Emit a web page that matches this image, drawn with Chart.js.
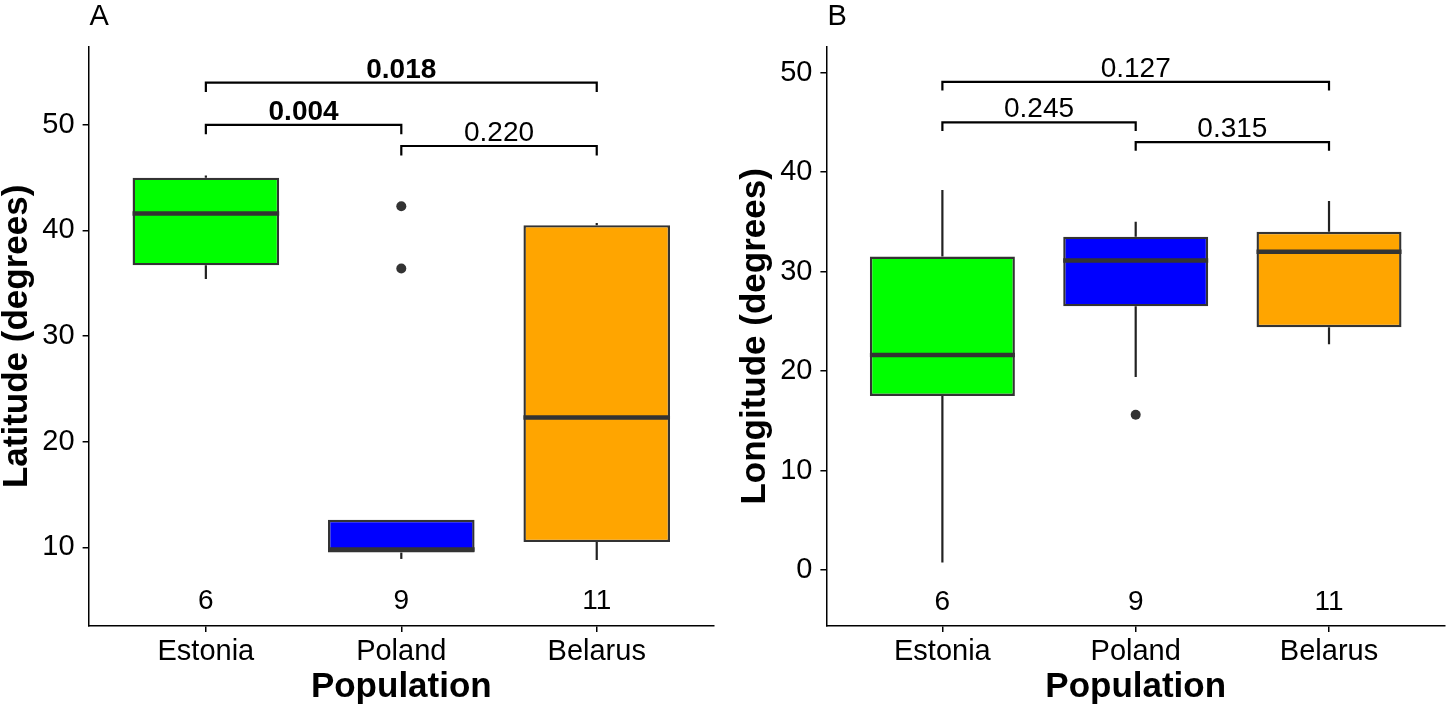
<!DOCTYPE html>
<html><head><meta charset="utf-8">
<script src="https://cdn.jsdelivr.net/npm/chart.js@4.4.0/dist/chart.umd.min.js"></script>
<style>
html,body{margin:0;padding:0;background:#fff;}
#wrap{position:relative;width:1450px;height:710px;overflow:hidden;}
.panel{position:absolute;top:0;width:725px;height:710px;}
canvas{display:block;}
</style></head><body>
<div id="wrap">
<div class="panel" style="left:0"><canvas id="cA" width="725" height="710"></canvas></div>
<div class="panel" style="left:725px"><canvas id="cB" width="725" height="710"></canvas></div>
</div>
<script>
const categories = ['Estonia', 'Poland', 'Belarus'];
const sampleSizes = [6, 9, 11];
const boxColors = ['#00FF00', '#0000FF', '#FFA500'];
const bracketPairs = [[1, 2], [2, 3], [1, 3]];

// Panel A - Latitude
const latWhiskerLow = [35.4, 8.9, 8.8];
const latQ1 = [36.7, 9.5, 10.5];
const latMedian = [41.6, 9.8, 22.3];
const latQ3 = [45.0, 12.6, 40.5];
const latWhiskerHigh = [45.2, 12.6, 40.7];
const latOutliers = [[], [42.3, 36.4], []];
const latTicks = [10, 20, 30, 40, 50];
const latRange = [2.55, 57.4];
const latPValues = ['0.004', '0.220', '0.018'];
const latPBold = [true, false, true];
const latBracketY = [50.0, 48.0, 54.0];
const latCountY = 4.85;

// Panel B - Longitude
const lonWhiskerLow = [0.75, 19.4, 22.7];
const lonQ1 = [17.5, 26.5, 24.4];
const lonMedian = [21.6, 31.1, 32.0];
const lonQ3 = [31.5, 33.5, 34.0];
const lonWhiskerHigh = [38.2, 35.0, 37.1];
const lonOutliers = [[], [15.6], []];
const lonTicks = [0, 10, 20, 30, 40, 50];
const lonRange = [-5.63, 52.6];
const lonPValues = ['0.245', '0.315', '0.127'];
const lonPBold = [false, false, false];
const lonBracketY = [45.0, 43.0, 49.07];
const lonCountY = -3.2;

const FONT = "'Liberation Sans', Arial, sans-serif";

function makePlugin(d) {
  return {
    id: 'boxExtras' + d.letter,
    beforeDatasetsDraw(chart) {
      const {ctx, scales: {x, y}} = chart;
      ctx.save();
      ctx.strokeStyle = '#222222';
      ctx.lineWidth = 2.2;
      d.low.forEach((lo, i) => {
        const px = x.getPixelForValue(i + 1);
        ctx.beginPath();
        ctx.moveTo(px, y.getPixelForValue(lo));
        ctx.lineTo(px, y.getPixelForValue(d.q1[i]));
        ctx.moveTo(px, y.getPixelForValue(d.q3[i]));
        ctx.lineTo(px, y.getPixelForValue(d.high[i]));
        ctx.stroke();
      });
      ctx.restore();
    },
    afterDatasetsDraw(chart) {
      const {ctx, scales: {x, y}, chartArea} = chart;
      const meta = chart.getDatasetMeta(0);
      ctx.save();
      // medians
      ctx.strokeStyle = '#333333';
      ctx.lineWidth = 4.5;
      d.median.forEach((m, i) => {
        const el = meta.data[i];
        const py = y.getPixelForValue(m);
        ctx.beginPath();
        ctx.moveTo(el.x - el.width / 2, py);
        ctx.lineTo(el.x + el.width / 2, py);
        ctx.stroke();
      });
      // brackets
      ctx.strokeStyle = '#000';
      ctx.lineWidth = 2.2;
      ctx.fillStyle = '#000';
      ctx.textAlign = 'center';
      ctx.textBaseline = 'alphabetic';
      bracketPairs.forEach((p, k) => {
        const x1 = x.getPixelForValue(p[0]);
        const x2 = x.getPixelForValue(p[1]);
        const yb = y.getPixelForValue(d.bracketY[k]);
        const yt = y.getPixelForValue(d.bracketY[k] - d.tip);
        ctx.beginPath();
        ctx.moveTo(x1, yt); ctx.lineTo(x1, yb); ctx.lineTo(x2, yb); ctx.lineTo(x2, yt);
        ctx.stroke();
        ctx.font = (d.bold[k] ? 'bold ' : '') + '28px ' + FONT;
        ctx.fillText(d.pvals[k], (x1 + x2) / 2, yb - 5);
      });
      // sample sizes
      ctx.font = '28px ' + FONT;
      ctx.textBaseline = 'middle';
      sampleSizes.forEach((n, i) => {
        ctx.fillText(String(n), x.getPixelForValue(i + 1), y.getPixelForValue(d.countY));
      });
      // panel letter
      ctx.textAlign = 'left';
      ctx.textBaseline = 'alphabetic';
      ctx.font = '29px ' + FONT;
      ctx.fillText(d.letter, chartArea.left + 1, 25);
      ctx.restore();
    }
  };
}

function makeChart(id, d) {
  const outPts = [];
  d.outliers.forEach((arr, i) => arr.forEach(v => outPts.push({x: i + 1, y: v})));
  return new Chart(document.getElementById(id), {
    type: 'bar',
    data: {
      datasets: [
        {
          type: 'bar',
          data: categories.map((c, i) => ({x: i + 1, y: [d.q1[i], d.q3[i]]})),
          backgroundColor: boxColors,
          borderColor: '#333333',
          borderWidth: 2.4,
          borderSkipped: false,
          barPercentage: 0.75,
          categoryPercentage: 1.0
        },
        {
          type: 'scatter',
          data: outPts,
          pointRadius: 5,
          pointBackgroundColor: '#333333',
          pointBorderWidth: 0
        }
      ]
    },
    options: {
      responsive: false,
      animation: false,
      layout: {padding: {top: 46.7, right: d.padRight, bottom: 0, left: 0}},
      plugins: {legend: {display: false}, tooltip: {enabled: false}, title: {display: false}},
      scales: {
        x: {
          type: 'linear',
          min: 0.4, max: 3.6,
          offset: false,
          afterBuildTicks: s => { s.ticks = categories.map((c, i) => ({value: i + 1})); },
          afterFit: s => { s.height = 84; },
          ticks: {
            autoSkip: false, maxRotation: 0, padding: 3,
            color: '#000', font: {family: FONT, size: 29},
            callback: v => categories[Math.round(v) - 1]
          },
          grid: {display: true, drawOnChartArea: false, drawTicks: true, tickLength: 6, color: '#000', lineWidth: 1.5, offset: false},
          border: {display: true, color: '#000', width: 1.5},
          title: {display: true, text: 'Population', color: '#000', font: {family: FONT, size: 35, weight: 'bold'}, padding: {top: 0, bottom: 2}}
        },
        y: {
          type: 'linear',
          min: d.range[0], max: d.range[1],
          afterBuildTicks: s => { s.ticks = d.ticks.map(v => ({value: v})); },
          afterFit: s => { s.width = d.yWidth; },
          ticks: {padding: 8, color: '#000', font: {family: FONT, size: 29}},
          grid: {display: true, drawOnChartArea: false, drawTicks: true, tickLength: 6, color: '#000', lineWidth: 1.5},
          border: {display: true, color: '#000', width: 1.5},
          title: {display: true, text: d.yTitle, color: '#000', font: {family: FONT, size: 35, weight: 'bold', lineHeight: 1.0}, padding: {top: d.yTitlePad, bottom: 0}}
        }
      }
    },
    plugins: [makePlugin(d)]
  });
}

makeChart('cA', {
  letter: 'A', yTitle: 'Latitude (degrees)',
  low: latWhiskerLow, q1: latQ1, median: latMedian, q3: latQ3, high: latWhiskerHigh,
  outliers: latOutliers, ticks: latTicks, range: latRange,
  pvals: latPValues, bold: latPBold, bracketY: latBracketY, tip: 0.9, countY: latCountY,
  yWidth: 88.6, padRight: 11, yTitlePad: 0
});
makeChart('cB', {
  letter: 'B', yTitle: 'Longitude (degrees)',
  low: lonWhiskerLow, q1: lonQ1, median: lonMedian, q3: lonQ3, high: lonWhiskerHigh,
  outliers: lonOutliers, ticks: lonTicks, range: lonRange,
  pvals: lonPValues, bold: lonPBold, bracketY: lonBracketY, tip: 0.87, countY: lonCountY,
  yWidth: 101.4, padRight: 3.4, yTitlePad: 12.5
});
</script>
</body></html>
